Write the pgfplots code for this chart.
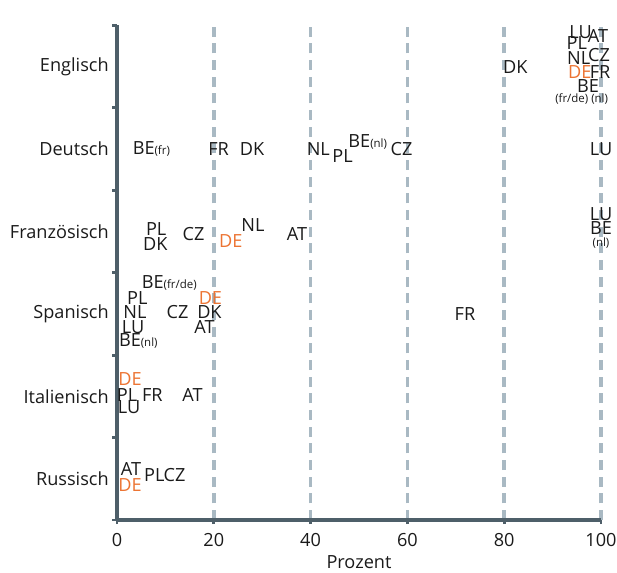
\documentclass[border=0pt]{standalone}
\usepackage{pgfplots}
\pgfplotsset{compat=1.18}
\usepackage{fontspec}
\setmainfont{Open Sans}
\definecolor{axisc}{HTML}{4E5F69}
\definecolor{gridc}{HTML}{A9B9C3}
\definecolor{deor}{HTML}{EC7433}
\definecolor{txt}{HTML}{1A1A1A}
\newcommand{\sm}[1]{{\fontsize{8.6pt}{9pt}\selectfont #1}}
\begin{document}
\fontsize{13.6pt}{16pt}\selectfont
\begin{tikzpicture}
\begin{axis}[
  name=ax,
  scale only axis, width=363pt, height=371pt,
  xmin=0, xmax=100, ymin=0.5, ymax=6.5,
  axis x line=bottom, axis y line=left,
  axis line style={-, line width=3pt, color=axisc},
  /pgf/number format/assume math mode=true,
  xtick={0,20,...,100},
  ytick={1,2,3,4,5,6},
  yticklabels={Russisch,Italienisch,Spanisch,Französisch,Deutsch,Englisch},
  minor ytick={0.5,1.5,...,6.5},
  tick align=outside,
  major tick length=3pt, minor tick length=3.5pt,
  major x tick style={axisc, line width=2.2pt},
  major y tick style={draw=none},
  minor y tick style={axisc, line width=2.2pt},
  xmajorgrids,
  major x grid style={gridc, line width=2.6pt, dash pattern=on 7.5pt off 5pt},
  tick label style={text=txt},
  xticklabel style={yshift=-2pt},
  yticklabel style={xshift=1.5pt},
  xlabel={Prozent},
  xlabel style={text=txt, yshift=2pt},
  clip=false,
  nodes near coords,
  point meta=explicit symbolic,
  nodes near coords align={anchor=center},
  every node near coord/.append style={inner sep=0pt, font=\fontsize{13.6pt}{16pt}\selectfont},
]
\addplot[draw=none, mark=none, every node near coord/.append style={text=txt}] coordinates {
  (95.8,6.42) [LU]
  (99.4,6.375) [AT]
  (95.0,6.28) [PL]
  (99.6,6.145) [CZ]
  (95.4,6.10) [NL]
  (99.8,5.93) [FR]
  (82.3,5.99) [DK]
  (97.3,5.76) [BE]
  (96.0,5.61) [\sm{(fr/de) (nl)}]
  (7.1,5.0) [BE\sm{(fr)}]
  (21.0,5.0) [FR]
  (27.9,5.0) [DK]
  (41.6,5.0) [NL]
  (46.6,4.92) [PL]
  (51.8,5.09) [BE\sm{(nl)}]
  (58.8,5.0) [CZ]
  (100,5.0) [LU]
  (8.1,4.03) [PL]
  (7.9,3.845) [DK]
  (15.8,3.966) [CZ]
  (28.1,4.075) [NL]
  (37.2,3.966) [AT]
  (100,4.21) [LU]
  (100,4.04) [BE]
  (100,3.86) [\sm{(nl)}]
  (10.8,3.37) [BE\sm{(fr/de)}]
  (4.2,3.19) [PL]
  (3.7,3.02) [NL]
  (12.5,3.02) [CZ]
  (19.1,3.02) [DK]
  (3.3,2.84) [LU]
  (18.1,2.84) [AT]
  (4.4,2.67) [BE\sm{(nl)}]
  (71.9,3.0) [FR]
  (2.1,2.02) [PL]
  (7.3,2.02) [FR]
  (15.6,2.02) [AT]
  (2.5,1.87) [LU]
  (2.9,1.12) [AT]
  (7.7,1.04) [PL]
  (11.9,1.04) [CZ]
};
\addplot[draw=none, mark=none, every node near coord/.append style={text=deor}] coordinates {
  (95.6,5.93) [DE]
  (23.5,3.88) [DE]
  (19.3,3.19) [DE]
  (2.7,2.21) [DE]
  (2.7,0.93) [DE]
};
\end{axis}
\pgfresetboundingbox
\path (ax.south west) ++(-87.75pt,-39pt) rectangle ++(462.75pt,429pt);
\end{tikzpicture}
\end{document}
